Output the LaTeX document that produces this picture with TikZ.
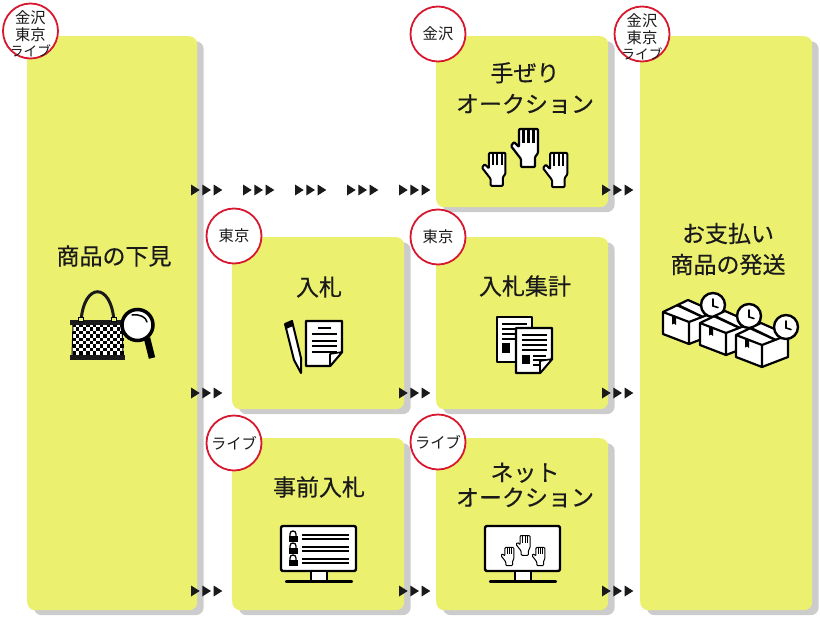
\documentclass[tikz,border=0pt]{standalone}
\usepackage{fontspec}
\setmainfont{Noto Sans CJK JP}
\newfontfamily\titlefont[FakeBold=0.4]{Noto Sans CJK JP}
\usepackage{xcolor}
\usetikzlibrary{shadows}
\definecolor{cardyellow}{HTML}{ECF06F}
\definecolor{cardshadow}{HTML}{CCCCCC}
\definecolor{badgered}{HTML}{D7182F}
\definecolor{inkblack}{HTML}{1A1A1A}
\newcommand{\threecities}{\rule{0pt}{18pt}金沢\\東京\\[-1pt]{\fontsize{13.7}{14}\selectfont ライブ}}
\tikzset{card/.style={fill=cardyellow, rounded corners=8pt, anchor=north west, inner sep=0pt,
           general shadow={shadow xshift=6.5pt, shadow yshift=-5pt, fill=cardshadow}},
         cardtitle/.style={text=inkblack, align=center, inner sep=0pt,
           font=\titlefont\fontsize{23}{31}\selectfont},
         badge/.style={circle, draw=badgered, line width=1.8pt, fill=white, text=inkblack,
           minimum size=55pt, inner sep=-14pt, align=center,
           font=\fontsize{15.3}{17}\selectfont},
         icon/.style={draw=black, fill=white, line width=2.4pt, line join=round},
         hand/.pic={
           \draw[fill=white, line join=round, rounded corners=1pt] (8,1)--(27,1)--(27,25)--(24,29)--(24,39)--(10,39)
             --(10,31)--(0,18)--(3,14)--(8,19)--cycle;
           \foreach \x in {12.5,17.5,22.5}
             \draw (\x,1)--(\x,15);
         },
         triple/.pic={
           \foreach \x in {0,11.3,22.6}
             \fill[inkblack] (\x,-5.5)--(\x+8.7,0)--(\x,5.5)--cycle;
         },
         docpage/.pic={
           \draw[icon] (0,0)--(36,0)--(36,31)--(24,45)--(0,45)--cycle;
           \draw[icon, line width=1.6pt] (36,31)--(24,33)--(24,45)--cycle;
         },
         parcel/.pic={
           \draw[icon, line width=2.2pt] (0,12)--(25,0)--(52,12)--(52,34)--(26,44)--(0,34)--cycle;
           \draw[line width=2.2pt] (0,12)--(26,22)--(52,12) (26,22)--(26,44);
           \fill[black] (12,5.5)--(37,17)--(40,15.8)--(15.5,4)--cycle;
           \fill[black] (9,15)--(13,16.5)--(13,25)--(11,23.5)--(9,24.5)--cycle;
         },
         clockface/.pic={
           \draw[icon] (0,0) circle (12);
           \draw[line width=1.6pt, line cap=round] (0,-6)--(0,1)--(5,2.5);
         },
         monitor/.pic={
           \draw[icon, rounded corners=2pt] (0,0) rectangle (75,45);
           \draw[icon] (30,45) rectangle (46,55);
           \draw[line width=2.2pt, line cap=round] (5,55.5)--(71,55.5);
         },
         padlock/.pic={
           \draw[line width=1.3pt] (-3,-1) -- (-3,-3) .. controls (-3,-7) and (3,-7) .. (3,-3) -- (3,-1);
           \fill[black] (-4.5,-1) rectangle (4.5,5);
         }}
\begin{document}
\begin{tikzpicture}[x=1pt, y=-1pt]
\useasboundingbox (0,0) rectangle (820,632);
% cards
\node[card, minimum width=170pt, minimum height=574pt] (preview) at (27,36) {};
\node[card, minimum width=172pt, minimum height=171pt] (handbid) at (436,36) {};
\node[card, minimum width=172pt, minimum height=574pt] (payment) at (640,36) {};
\node[card, minimum width=172pt, minimum height=172pt] (bid) at (232,237) {};
\node[card, minimum width=172pt, minimum height=172pt] (tally) at (436,237) {};
\node[card, minimum width=172pt, minimum height=172pt] (prebid) at (232,438) {};
\node[card, minimum width=172pt, minimum height=172pt] (netbid) at (436,438) {};
% titles
\node[cardtitle] (previewtitle) at (114,256) {商品の下見};
\node[cardtitle] (handbidtitle) at (525,88) {手ぜり\\オークション};
\node[cardtitle] (paymenttitle) at (728,249) {お支払い\\商品の発送};
\node[cardtitle] (bidtitle) at (319,287) {入札};
\node[cardtitle] (tallytitle) at (525,286) {入札集計};
\node[cardtitle] (prebidtitle) at (319,487) {事前入札};
\node[cardtitle] (netbidtitle) at (525,485) {ネット\\[-6pt]オークション};
% badges
\node[badge] (badgeA) at (30.5,31) {\threecities};
\node[badge] (badgeB) at (438,34) {金沢};
\node[badge] (badgeC) at (642,34) {\threecities};
\node[badge] (badgeD) at (234,236) {東京};
\node[badge] (badgeE) at (438,237) {東京};
\node[badge] (badgeF) at (234,443) {ライブ};
\node[badge] (badgeG) at (438,442) {ライブ};
% arrows
\foreach \x/\y in {191/190,243/190,295/190,347/190,399/190,602/190,
                   191/393,399/393,602/393,191/591,399/591,602/591}
  \pic at (\x,\y) {triple};
% bag and lens
\draw[line width=3pt, inkblack] (81,321) .. controls (84,282) and (111,282) .. (114,321);
\fill[white] (73,324)--(121,324)--(123,355)--(72,355)--cycle;
\foreach \i in {0,...,14}
  \foreach \j in {0,...,8} {
    \pgfmathtruncatemacro{\tile}{mod(\i+\j,2)}
    \ifnum\tile=0 \fill[black] (72.5+3.4*\i,324+3.4*\j) rectangle +(3.4,3.4); \fi
  }
\draw[line width=1pt] (73,324)--(72,355) (122,324)--(123,355);
\fill[inkblack] (70,319.5) rectangle (122,324.5);
\fill[inkblack] (70,355) rectangle (125,360);
\draw[fill=cardyellow, line width=.8pt] (78.5,317) rectangle (83.5,321) (111.5,317) rectangle (116.5,321);
\draw[line width=6.5pt] (147,338)--(152,358);
\draw[fill=white, line width=3.5pt] (137.5,325) circle (15.5);
\draw[line width=1.5pt, line cap=round] (132,315) .. controls (140,314) and (146,317) .. (147,322);
% pencil and sheet
\draw[icon, line width=2pt] (285,324)--(292,321)--(301,358)--(301,373)--(294,360)--cycle;
\fill[black] (285,324)--(292,321)--(293,326)--(286,329)--cycle;
\pic at (306,321) {docpage};
\draw[line width=2pt] (318,328)--(331,328);
\foreach \y in {334,340.5,346,352}
  \draw[line width=2pt] (312,\y)--(337,\y);
% two sheets
\draw[icon, line width=2pt] (497,317) rectangle (532,362);
\foreach \y in {324,329,334,339}
  \draw[line width=1.5pt] (502,\y)--(527,\y);
\fill[black] (502,343) rectangle (510,353);
\pic[scale=1] at (516,328) {docpage};
\foreach \y in {335,340,345,350}
  \draw[line width=1.5pt] (522,\y)--(547,\y);
\fill[black] (522,355) rectangle (530,364);
\foreach \y in {356,360}
  \draw[line width=1.5pt] (533,\y)--(546,\y);
\draw[line width=1.5pt] (533,365)--(541,365);
% three hands
\pic[line width=2.2pt] at (511,128) {hand};
\pic[scale=.87, line width=2pt] at (482,152) {hand};
\pic[scale=.9, line width=2pt] at (543,152) {hand};
% parcels and clocks
\pic at (663,300) {parcel};
\pic at (713,305) {clockface};
\pic at (700,311) {parcel};
\pic at (749,316) {clockface};
\pic at (736,323) {parcel};
\pic at (786,327) {clockface};
% monitors
\pic at (281,526) {monitor};
\foreach \y in {537,549,561} {
  \pic at (293,\y) {padlock};
  \draw[line width=1.6pt] (302,\y-2)--(349,\y-2) (302,\y+2)--(349,\y+2);
}
\pic at (485,526) {monitor};
\pic[scale=.52, line width=1pt] at (516,535) {hand};
\pic[scale=.48, line width=1pt] at (501,547) {hand};
\pic[scale=.48, line width=1pt] at (532,547) {hand};
\end{tikzpicture}
\end{document}
